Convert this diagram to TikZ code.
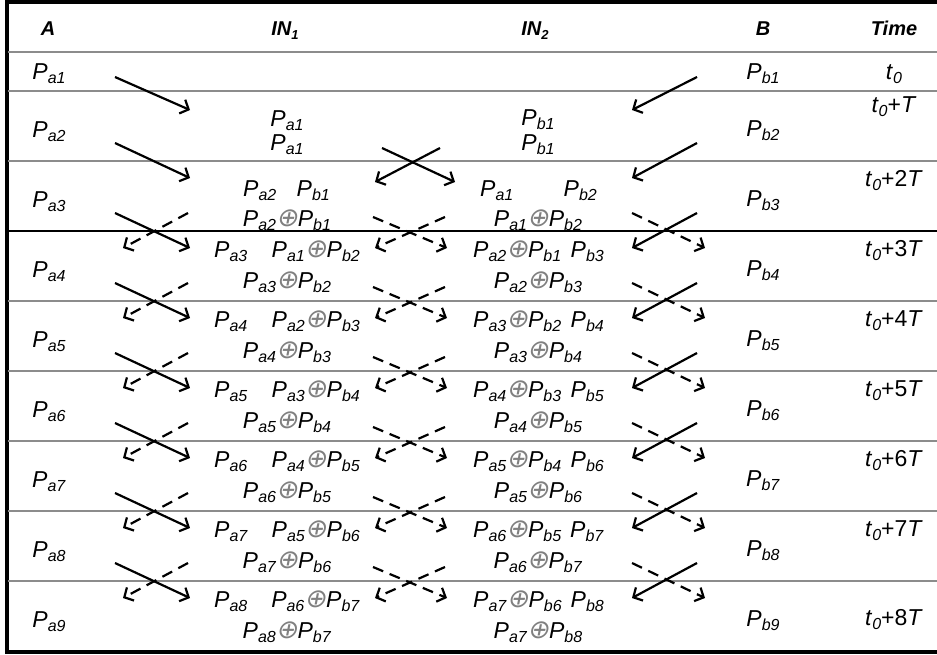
\documentclass[tikz,border=0pt]{standalone}
\usepackage{fontspec}
\setmainfont{Liberation Sans}
\newfontfamily\opfont[FakeSlant=0.2]{DejaVu Sans}
\usetikzlibrary{arrows.meta}

\newcommand{\pp}[2]{\textit{P}\raisebox{-4.5pt}{\fontsize{16}{16}\selectfont\textit{#1#2}}}
\newcommand{\pa}[1]{\pp{a}{#1}}
\newcommand{\pb}[1]{\pp{b}{#1}}
\newcommand{\xo}{\textcolor{black!50}{\fontsize{26}{26}\opfont ⊕}}
\newcommand{\ab}[2]{\pa{#1}\xo\pb{#2}}
\newcommand{\tz}{\textit{t}\raisebox{-4.5pt}{\fontsize{16}{16}\selectfont\textit{0}}}
\newcommand{\hsub}[1]{\raisebox{-4.5pt}{\fontsize{13}{13}\selectfont #1}}

\begin{document}
\begin{tikzpicture}[
    x=1pt, y=-1pt,
    font=\fontsize{23}{27}\selectfont,
    >={Straight Barb[length=7pt,width=15pt]},
    % Styles
    hdr/.style={font=\fontsize{20}{22}\selectfont\bfseries\itshape, anchor=base, inner sep=0pt},
    cell/.style={anchor=base, inner sep=0pt},
    cellw/.style={anchor=base west, inner sep=0pt},
    celle/.style={anchor=base east, inner sep=0pt},
    rowline/.style={draw=black!45, line width=1.8pt},
    frame/.style={line width=4pt},
    flow/.style={->, line width=2.2pt},
    back/.style={->, line width=2.2pt, dash pattern=on 11pt off 7pt}
]
\useasboundingbox (0,0) rectangle (937,654);

% --- Table frame and rules ---
\draw[frame] (945,2) -- (6.5,2) -- (6.5,651.5) -- (945,651.5);
\foreach \y in {52,91,161,301,371,441,511,581}
    \draw[rowline] (8,\y) -- (937,\y);
\draw[line width=1.2pt] (8,231) -- (937,231);

% --- Header ---
\node[hdr] (hA) at (48,35) {A};
\node[hdr] (hIN1) at (285,35) {IN\hsub{1}};
\node[hdr] (hIN2) at (535,35) {IN\hsub{2}};
\node[hdr] (hB) at (763,35) {B};
\node[hdr] (hT) at (894,35) {Time};

% --- Columns A, B and Time ---
\node[cell] (a1) at (49,79) {\pa{1}};
\node[cell] (b1) at (763,79) {\pb{1}};
\node[cell] (t1) at (894,79) {\tz};
\foreach \r in {2,...,9} {
    \pgfmathtruncatemacro\tp{\r==2 ? 91 : 161+70*(\r-3)}
    \node[cell] (a\r) at (49,\tp+46) {\pa{\r}};
    \node[cell] (b\r) at (763,\tp+45) {\pb{\r}};
}
\node[cell] (t2) at (894,112) {\tz+\textit{T}};
\foreach \r in {3,...,8} {
    \pgfmathtruncatemacro\k{\r-1}
    \pgfmathtruncatemacro\tp{161+70*(\r-3)}
    \node[cell] (t\r) at (894,\tp+25) {\tz+\k\textit{T}};
}
\node[cell] (t9) at (894,625) {\tz+8\textit{T}};

% --- IN1 and IN2, first rows ---
\node[cell] (i2a) at (287,126) {\pa{1}};
\node[cell] (i2b) at (287,150) {\pa{1}};
\node[cell] (j2a) at (538,125) {\pb{1}};
\node[cell] (j2b) at (538,150) {\pb{1}};
\node[cellw] (i3l) at (243,196) {\pa{2}};
\node[celle] (i3r) at (330,196) {\pb{1}};
\node[cell] (i3b) at (287,226) {\ab{2}{1}};
\node[cellw] (j3l) at (480,196) {\pa{1}};
\node[celle] (j3r) at (597,196) {\pb{2}};
\node[cell] (j3b) at (538,226) {\ab{1}{2}};

% --- IN1 and IN2, rows 4 to 9 ---
\foreach \r in {4,...,9} {
    \pgfmathtruncatemacro\tp{161+70*(\r-3)}
    \pgfmathtruncatemacro\m{\r-1}
    \pgfmathtruncatemacro\n{\r-2}
    \pgfmathtruncatemacro\o{\r-3}
    \node[cellw] (i\r l) at (214,\tp+26) {\pa{\m}};
    \node[celle] (i\r r) at (360,\tp+26) {\ab{\o}{\n}};
    \node[cell] (i\r b) at (287,\tp+57) {\ab{\m}{\n}};
    \node[cellw] (j\r l) at (473,\tp+26) {\ab{\n}{\o}};
    \node[celle] (j\r r) at (604,\tp+26) {\pb{\m}};
    \node[cell] (j\r b) at (538,\tp+57) {\ab{\n}{\m}};
}

% --- Transfers ---
\coordinate (sa1) at (115,77);  \coordinate (ea1) at (190,110);
\coordinate (sb1) at (697,77);  \coordinate (eb1) at (632,110);
\draw[flow] (sa1) -- (ea1);
\draw[flow] (sb1) -- (eb1);
\coordinate (sm1) at (382,148); \coordinate (em1) at (455,182);
\coordinate (sn1) at (440,148); \coordinate (en1) at (375,182);
\draw[flow] (sm1) -- (em1);
\draw[flow] (sn1) -- (en1);
\foreach \r in {2,...,8} {
    \pgfmathtruncatemacro\tp{\r==2 ? 91 : 161+70*(\r-3)}
    \coordinate (sa\r) at (115,\tp+52); \coordinate (ea\r) at (190,\tp+87);
    \coordinate (sb\r) at (697,\tp+52); \coordinate (eb\r) at (632,\tp+87);
    \draw[flow] (sa\r) -- (ea\r);
    \draw[flow] (sb\r) -- (eb\r);
}
\foreach \r in {3,...,8} {
    \pgfmathtruncatemacro\tp{161+70*(\r-3)}
    \coordinate (ra\r) at (188,\tp+52); \coordinate (qa\r) at (123,\tp+87);
    \coordinate (rb\r) at (632,\tp+52); \coordinate (qb\r) at (705,\tp+87);
    \coordinate (rm\r) at (373,\tp+56); \coordinate (qm\r) at (447,\tp+87);
    \coordinate (rn\r) at (445,\tp+56); \coordinate (qn\r) at (375,\tp+87);
    \draw[back] (ra\r) -- (qa\r);
    \draw[back] (rb\r) -- (qb\r);
    \draw[back] (rm\r) -- (qm\r);
    \draw[back] (rn\r) -- (qn\r);
}
\end{tikzpicture}
\end{document}
